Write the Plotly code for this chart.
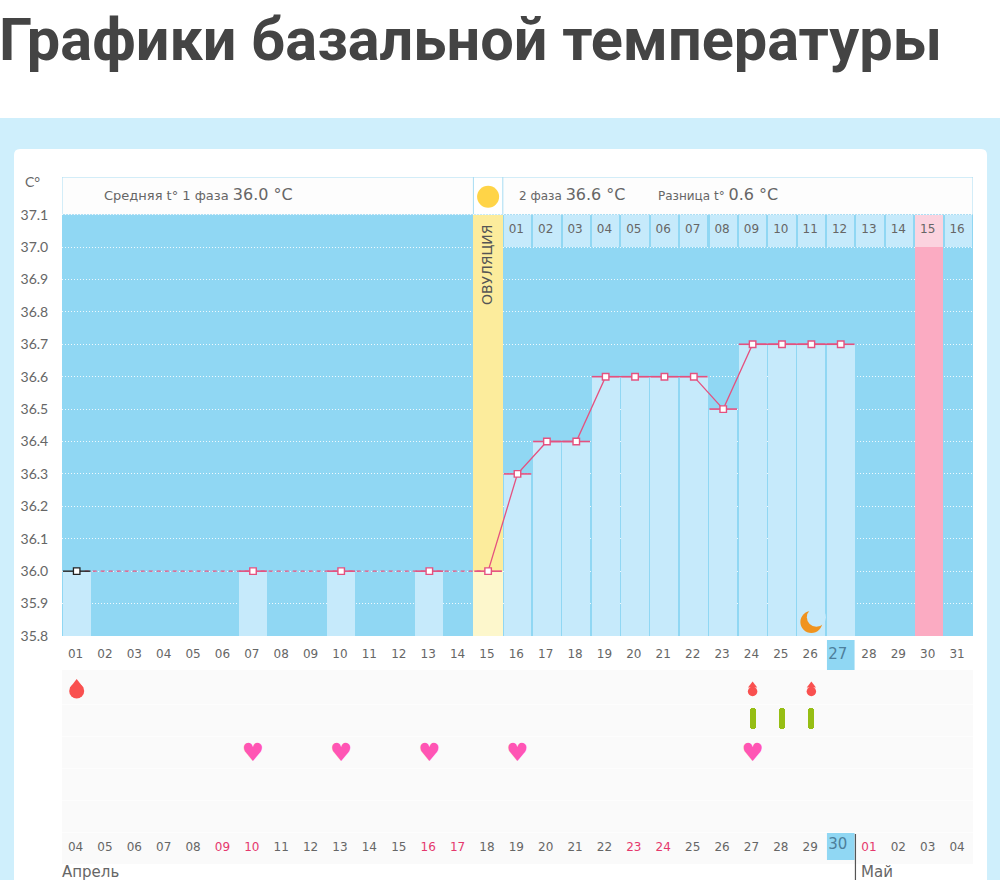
import plotly.graph_objects as go

# ---------- data ----------
title_text = "Графики базальной температуры"
temp_days = [1, 7, 10, 13, 15]
temp_values = [36.0, 36.0, 36.0, 36.0, 36.0]
rise_days = [15, 16, 17, 18, 19, 20, 21, 22, 23, 24, 25, 26, 27]
rise_values = [36.0, 36.3, 36.4, 36.4, 36.6, 36.6, 36.6, 36.6, 36.5, 36.7, 36.7, 36.7, 36.7]
y_ticks = [35.8, 35.9, 36.0, 36.1, 36.2, 36.3, 36.4, 36.5, 36.6, 36.7, 36.8, 36.9, 37.0, 37.1]
cycle_days = list(range(1, 32))
cycle_labels = [f"{d:02d}" for d in cycle_days]
phase_days = list(range(16, 32))
phase_labels = [f"{d:02d}" for d in range(1, 17)]
date_labels = ["04", "05", "06", "07", "08", "09", "10", "11", "12", "13", "14", "15", "16", "17", "18", "19",
               "20", "21", "22", "23", "24", "25", "26", "27", "28", "29", "30", "01", "02", "03", "04"]
red_dates = ["09", "10", "16", "17", "23", "24", "01"]
ovulation_day = 15
pink_day = 30
today_day = 27
big_drop_days = [1]
small_drop_days = [24, 26]
pill_days = [24, 25, 26]
heart_days = [7, 10, 13, 16, 24]
moon_day = 26

BLUE = "#90D7F3"
PALE = "#C6EAFB"
PINK = "#E5517F"
GREY = "#666666"
FONT = "DejaVu Sans"
W, H = 1000, 880
LABEL_NUDGE = 0.04
px = lambda v: v / W
py = lambda v: 1 - v / H
row = lambda p: (p - 688) / 32 + 1       # page pixel -> lower panel row

fig = go.Figure()
all_bar_days = temp_days[:-1] + rise_days[1:]
all_bar_vals = temp_values[:-1] + rise_values[1:]

# columns
fig.add_bar(x=all_bar_days, y=[v - 35.8 for v in all_bar_vals], base=35.8, width=0.95,
            marker=dict(color=PALE, line_width=0), hoverinfo="skip")
fig.add_bar(x=[ovulation_day], y=[36.0 - 35.8], base=35.8, width=1, marker=dict(color="#FDF7CC", line_width=0))
fig.add_bar(x=[ovulation_day], y=[37.1 - 36.0], base=36.0, width=1, marker=dict(color="#FCEC9C", line_width=0))
fig.add_bar(x=[pink_day], y=[37.0 - 35.8], base=35.8, width=0.94, marker=dict(color="#FBABC2", line_width=0))
fig.add_bar(x=[d for d in phase_days if d != pink_day], y=[0.1] * 15, base=37.0, width=0.93,
            marker=dict(color=PALE, line_width=0))
fig.add_bar(x=[pink_day], y=[0.1], base=37.0, width=0.93, marker=dict(color="#FBD3DF", line_width=0))

# temperature lines
marker = dict(symbol="square", size=6.5, color="white", line=dict(color=PINK, width=1.4))
err = dict(type="constant", value=0.47, width=0, color=PINK, thickness=1.6)
fig.add_scatter(x=temp_days, y=temp_values, mode="lines", line=dict(color=PINK, width=1.4, dash="4px,4px"))
fig.add_scatter(x=rise_days, y=rise_values, mode="lines", line=dict(color=PINK, width=1.3))
fig.add_scatter(x=temp_days[1:] + rise_days[1:], y=temp_values[1:] + rise_values[1:], mode="markers",
                marker=marker, error_x=err)
fig.add_scatter(x=temp_days[:1], y=temp_values[:1], mode="markers",
                marker=dict(symbol="square", size=6.5, color="white", line=dict(color="#222222", width=1.3)),
                error_x=dict(type="constant", value=0.47, width=0, color="#222222", thickness=1.4))

# sun and moon
fig.add_scatter(x=[ovulation_day], y=[37.155], mode="markers", marker=dict(size=22, color="#FFD447"))
fig.add_scatter(x=[moon_day], y=[35.843], mode="markers", marker=dict(size=22, color="#F0931E"))
fig.add_scatter(x=[moon_day + 0.17], y=[35.858], mode="markers", marker=dict(size=19, color=PALE))

# phase day row
fig.add_scatter(x=[d - LABEL_NUDGE for d in phase_days], y=[37.052] * 16, mode="text", text=phase_labels,
                textfont=dict(family=FONT, size=12, color=GREY))

# lower panel
label_sizes = [12] * 31
label_colors = [GREY] * 31
label_sizes[today_day - 1] = 15
label_colors[today_day - 1] = "#4D7F9C"
label_x = [d - (0.1 if d == today_day else LABEL_NUDGE) for d in cycle_days]
fig.add_scatter(x=label_x, y=[row(655)] * 31, yaxis="y2", mode="text", text=cycle_labels,
                textfont=dict(family=FONT, size=label_sizes, color=label_colors))
date_colors = ["#E5386D" if d in red_dates else GREY for d in date_labels]
date_colors[today_day - 1] = "#4D7F9C"
fig.add_scatter(x=label_x[:today_day - 1] + label_x[today_day:], y=[row(848)] * 30, yaxis="y2", mode="text",
                text=date_labels[:today_day - 1] + date_labels[today_day:],
                textfont=dict(family=FONT, size=12,
                              color=date_colors[:today_day - 1] + date_colors[today_day:]))
fig.add_scatter(x=[label_x[today_day - 1]], y=[row(845)], yaxis="y2", mode="text", text=[date_labels[today_day - 1]],
                textfont=dict(family=FONT, size=15, color="#4D7F9C"))

# drops, pills, hearts
DROP = "#F9504F"
for days, circle, tri, c_y, t_y in [(big_drop_days, 15, 12, row(691), row(685)),
                                    (small_drop_days, 9.5, 8, row(691.5), row(685.6))]:
    fig.add_scatter(x=days, y=[t_y] * len(days), yaxis="y2", mode="markers",
                    marker=dict(symbol="triangle-up", size=tri, color=DROP))
    fig.add_scatter(x=days, y=[c_y] * len(days), yaxis="y2", mode="markers",
                    marker=dict(size=circle, color=DROP))
fig.add_bar(x=pill_days, y=[row(729) - row(708)] * 3, base=row(708), width=0.2, yaxis="y2",
            marker=dict(color="#96BE14", cornerradius=3, line_width=0))
fig.add_scatter(x=heart_days, y=[row(755)] * 5, yaxis="y2", mode="text", text=["♥"] * 5,
                textfont=dict(family=FONT, size=25, color="#FF55B4"))

shapes = [
    dict(type="rect", xref="paper", yref="paper", x0=0, x1=1, y0=py(H), y1=py(118),
         fillcolor="#CFEFFC", line_width=0, layer="below"),
    dict(type="path", xref="paper", yref="paper", layer="below", fillcolor="white", line_width=0,
         path=f"M {px(14)} {py(880)} L {px(14)} {py(155)} Q {px(14)} {py(149)} {px(20)} {py(149)} "
              f"L {px(981)} {py(149)} Q {px(987)} {py(149)} {px(987)} {py(155)} L {px(987)} {py(880)} Z"),
    dict(type="rect", xref="x", yref="y", x0=0.5, x1=31.5, y0=35.8, y1=37.1,
         fillcolor=BLUE, line_width=0, layer="below"),
    dict(type="rect", xref="x", yref="y2", x0=0.5, x1=31.5, y0=row(670), y1=row(864),
         fillcolor="#FAFAFA", line_width=0, layer="below"),
    dict(type="rect", xref="x", yref="y2", x0=today_day - 0.47, x1=today_day + 0.47, y0=row(640), y1=row(670),
         fillcolor=BLUE, line_width=0, layer="below"),
    dict(type="rect", xref="x", yref="y2", x0=today_day - 0.47, x1=today_day + 0.47, y0=row(832), y1=row(860),
         fillcolor=BLUE, line_width=0, layer="below"),
    dict(type="line", xref="x", yref="y2", x0=today_day + 0.5, x1=today_day + 0.5, y0=row(834), y1=row(880),
         line=dict(color="#555555", width=1.2)),
    dict(type="rect", xref="x", yref="y", x0=0.5, x1=14.5, y0=37.1, y1=37.216,
         fillcolor="#FDFDFD", line=dict(color="#A9DDF3", width=1), layer="below"),
    dict(type="rect", xref="x", yref="y", x0=15.5, x1=31.5, y0=37.1, y1=37.216,
         fillcolor="#FDFDFD", line=dict(color="#A9DDF3", width=1), layer="below"),
    dict(type="line", xref="x", yref="y", x0=14.5, x1=15.5, y0=37.216, y1=37.216,
         line=dict(color="#A9DDF3", width=1), layer="below"),
]

def note(text, x, y, size=12, color=GREY, anchor="left", **kw):
    return dict(text=text, xref="paper", yref="paper", x=px(x), y=py(y), xanchor=anchor, yanchor="middle",
                showarrow=False, font=dict(family=kw.pop("family", FONT), size=size, color=color), **kw)

def mixed(words, value):
    return f'{words} <span style="font-size:16px">{value}</span>'

annotations = [
    note(f"<b>{title_text}</b>", -3, 40, size=59.5, color="#444444", family="Roboto"),
    note("C°", 23, 181, size=14, family="Lato"),
    note(mixed("Средняя t° 1 фаза", "36.0 °C"), 102, 195, size=13),
    note(mixed("2 фаза", "36.6 °C"), 517, 195),
    note(mixed("Разница t°", "0.6 °C"), 656, 195),
    note("ОВУЛЯЦИЯ", 487, 265, size=14, anchor="center", textangle=-90, color="#555555"),
    note("Апрель", 60, 872, size=15),
    note("Май", 859, 872, size=15),
]

fig.update_layout(
    width=W, height=H, margin=dict(l=0, r=0, t=0, b=0), autosize=False,
    paper_bgcolor="white", plot_bgcolor="rgba(0,0,0,0)", showlegend=False, barmode="overlay", bargap=0,
    shapes=shapes, annotations=annotations, hovermode=False,
    xaxis=dict(domain=[px(62), px(973)], range=[0.5, 31.5], showgrid=False, zeroline=False, automargin=False,
               showticklabels=False, ticks="", anchor="y"),
    yaxis=dict(domain=[py(636), py(177)], range=[35.8, 37.216], tickmode="array", tickvals=y_ticks,
               ticktext=[f"{v:.1f}" for v in y_ticks], ticks="outside", ticklen=10, tickcolor="rgba(0,0,0,0)",
               tickfont=dict(family="Lato", size=14, color=GREY), showgrid=True, gridcolor="rgba(255,255,255,0.85)",
               griddash="1px,2px", gridwidth=1, zeroline=False, showline=False, anchor="x", automargin=False),
    yaxis2=dict(domain=[0, py(640)], range=[7, -0.5], tickmode="array", tickvals=[1.5, 2.5, 3.5, 4.5, 5.5],
                showticklabels=False, ticks="", showgrid=True, gridcolor="#FDFDFD", gridwidth=1,
                zeroline=False, anchor="x", automargin=False),
)

fig.write_html("out.html", config={"displayModeBar": False}, post_script="document.body.style.margin='0';")
